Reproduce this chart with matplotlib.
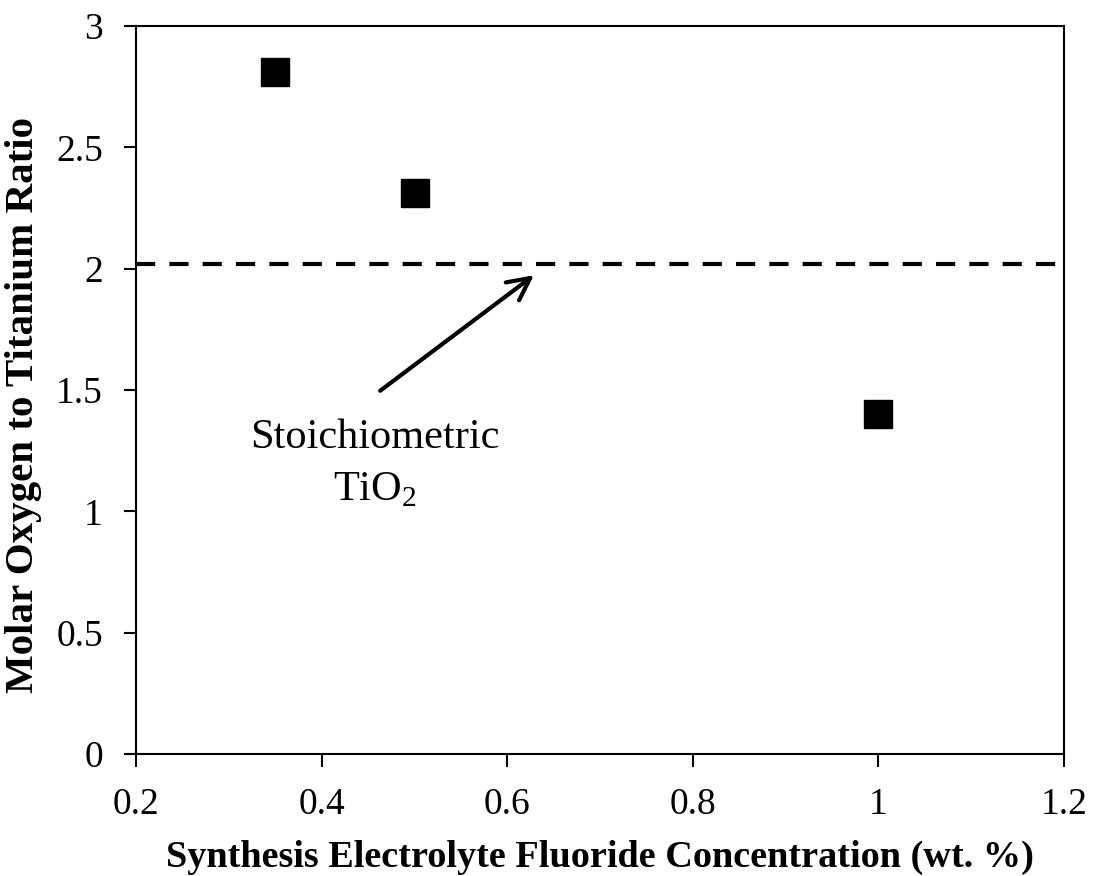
import matplotlib.pyplot as plt
from matplotlib.ticker import FuncFormatter
import numpy as np

fluoride = [0.35, 0.5, 1.0]
ratio = [2.81, 2.31, 1.40]
stoich = 2.02

plt.rcParams['font.family'] = ['Liberation Serif', 'DejaVu Serif']
plt.rcParams['mathtext.fontset'] = 'custom'
plt.rcParams['mathtext.rm'] = 'Liberation Serif'

fig = plt.figure(figsize=(10.93, 8.76), dpi=100)
ax = fig.add_axes([0.1247, 0.1393, 0.8488, 0.831])

ax.axhline(stoich, color='black', lw=3, dashes=(4.6, 3.4))
ax.plot(fluoride, ratio, 's', color='black', markersize=20, linestyle='none')

# arrow pointing at the stoichiometric line
ax.annotate('', xy=(0.631, 1.98), xytext=(0.4605, 1.49),
            arrowprops=dict(arrowstyle='->', lw=3, color='black', mutation_scale=40))
ax.text(0.457, 1.261, 'Stoichiometric', ha='center', va='baseline', fontsize=30.5)
ax.text(0.457, 1.047, 'TiO$_2$', ha='center', va='baseline', fontsize=30.5)

ax.set_xlim(0.2, 1.2)
ax.set_ylim(0, 3)
ax.set_xticks(np.arange(0.2, 1.21, 0.2))
ax.set_yticks(np.arange(0, 3.01, 0.5))
fmt = FuncFormatter(lambda v, p: '%g' % round(v, 2))
ax.xaxis.set_major_formatter(fmt)
ax.yaxis.set_major_formatter(fmt)
ax.tick_params(direction='out', length=9, width=1.5, labelsize=27, pad=15)
for s in ax.spines.values():
    s.set_linewidth(1.5)

ax.set_xlabel('Synthesis Electrolyte Fluoride Concentration (wt. %)',
              fontsize=27.5, fontweight='bold', labelpad=13)
ax.set_ylabel('Molar Oxygen to Titanium Ratio', fontsize=29.5, fontweight='bold')
ax.yaxis.set_label_coords(-0.102, 0.479)

plt.savefig('out.png', dpi=100)
